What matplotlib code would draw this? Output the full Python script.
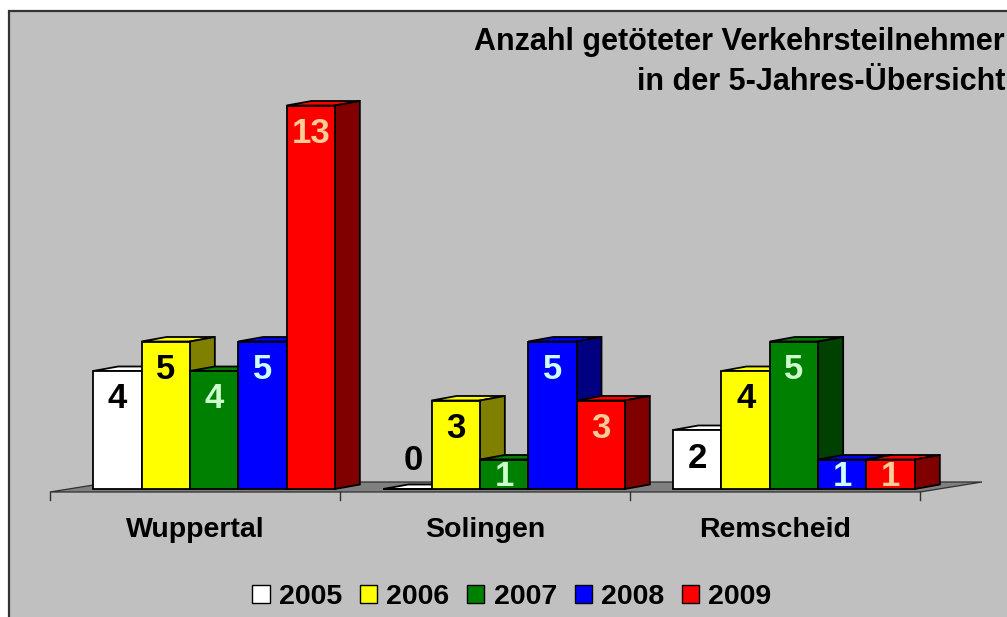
import matplotlib.pyplot as plt
from matplotlib.patches import Polygon, Rectangle, Patch

# Data
cities = ['Wuppertal', 'Solingen', 'Remscheid']
years = ['2005', '2006', '2007', '2008', '2009']
v2005 = [4, 0, 2]
v2006 = [5, 3, 4]
v2007 = [4, 1, 5]
v2008 = [5, 5, 1]
v2009 = [13, 3, 1]
series = [v2005, v2006, v2007, v2008, v2009]

front_colors = ['#FFFFFF', '#FFFF00', '#008000', '#0000FF', '#FF0000']
side_colors = ['#808080', '#808000', '#004000', '#000080', '#800000']
label_colors = ['black', 'black', '#CCFFCC', '#CCFFFF', '#FFCC99']

plt.rcParams['font.family'] = ['Liberation Sans', 'DejaVu Sans']

W, H = 1007, 617
fig = plt.figure(figsize=(W / 100, H / 100), dpi=100)
fig.patch.set_facecolor('white')

# grey chart area with dark border (runs off right / bottom edge)
fig.patches.append(Rectangle((9 / W, -0.05), 1.2, (H - 11) / H + 0.05,
                             transform=fig.transFigure, facecolor='#C0C0C0',
                             edgecolor='#333333', lw=1.6, zorder=-1))

ax = fig.add_axes([0, 0, 1, 1])
ax.patch.set_visible(False)
ax.axis('off')

# pixel layout of the category axis
X0, SLOT = 50, 290     # px of first category edge, px per category
Y0, UNIT = 492, 29.5   # px (from top) of floor front edge, px per death
ax.set_xlim(-X0 / SLOT, (W - X0) / SLOT)
ax.set_ylim(-(H - Y0) / UNIT, Y0 / UNIT)


def px(dx, dy):
    return dx / SLOT, dy / UNIT


n_cat = len(cities)
n_ser = len(series)
bw = 1 / (n_ser + 1)

# floor
fdx, fdy = px(62, 10)
ax.add_patch(Polygon([(0, 0), (n_cat, 0), (n_cat + fdx, fdy), (fdx, fdy)],
                     closed=True, facecolor='#808080', edgecolor='#303030',
                     lw=0.9, zorder=1))
tick_len = px(0, 8)[1]
for k in range(n_cat + 1):
    ax.plot([k, k], [0, -tick_len], color='#303030', lw=1.0, zorder=1)

# bars (painter's order left -> right)
sx, sy = px(19, 3)
ddx, ddy = px(25, 4.5)
z = 2
lw = 1.3
for i in range(n_cat):
    for j in range(n_ser):
        v = series[j][i]
        x = i + (0.5 + j) * bw + sx
        y = sy
        ax.add_patch(Polygon([(x, y + v), (x + bw, y + v),
                              (x + bw + ddx, y + v + ddy), (x + ddx, y + v + ddy)],
                             closed=True, facecolor=front_colors[j],
                             edgecolor='black', lw=lw, zorder=z))
        ax.add_patch(Polygon([(x + bw, y), (x + bw + ddx, y + ddy),
                              (x + bw + ddx, y + v + ddy), (x + bw, y + v)],
                             closed=True, facecolor=side_colors[j],
                             edgecolor='black', lw=lw, zorder=z))
        ax.bar(x, v, bw, bottom=y, align='edge', color=front_colors[j],
               edgecolor='black', linewidth=lw, zorder=z)
        z += 1

        if v > 0:
            ly = max(y + v - 28 / UNIT, y + 12.5 / UNIT)
            lx = x + bw / 2
            col = label_colors[j]
        else:
            ly = y + 29 / UNIT
            lx = x + bw / 2 + px(6, 0)[0]
            col = 'black'
        ax.text(lx, ly, str(v), ha='center', va='center', fontsize=25,
                fontweight='bold', color=col, zorder=100)

# category labels
for i, name in enumerate(cities):
    ax.text(i + 0.5, -(537 - Y0) / UNIT, name, ha='center', va='baseline',
            fontsize=20.5, fontweight='bold', color='black')

# title (right aligned near the edge)
fig.text(1005 / W, 1 - 50 / H, 'Anzahl getöteter Verkehrsteilnehmer',
         ha='right', va='baseline', fontsize=22, fontweight='bold')
fig.text(1005 / W, 1 - 90 / H, 'in der 5-Jahres-Übersicht',
         ha='right', va='baseline', fontsize=22, fontweight='bold')

# legend
handles = [Patch(facecolor=c, edgecolor='black', lw=1.0) for c in front_colors]
fig.legend(handles, years, loc='center', bbox_to_anchor=(512 / W, 1 - 597 / H),
           ncol=n_ser, frameon=False, prop=dict(size=20.5, weight='bold'),
           handlelength=0.6, handleheight=0.56, handletextpad=0.33,
           columnspacing=0.62, borderpad=0)

fig.savefig('out.png', dpi=100, facecolor=fig.get_facecolor())
